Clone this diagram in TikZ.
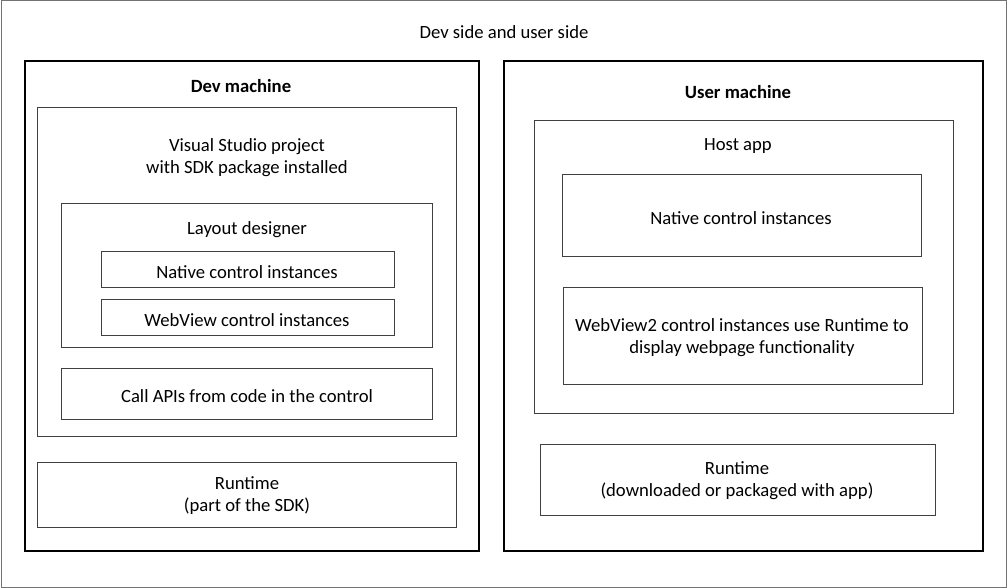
\documentclass[tikz,border=0pt]{standalone}
\usepackage{fontspec}
\setmainfont{Carlito}
\usetikzlibrary{fit}
\begin{document}
\begin{tikzpicture}[x=0.75pt,y=-0.75pt,
  frame/.style={draw=black!75, line width=0.75pt, inner sep=0pt},
  machine/.style={draw=black, line width=1.5pt, inner sep=0pt},
  outerframe/.style={draw=black!55, line width=0.75pt, inner sep=0pt},
  lbl/.style={font=\fontsize{14}{16.5}\selectfont, align=center, inner sep=0pt, text=black, yshift=-1.2pt},
  title/.style={lbl, font=\fontsize{14}{16.5}\selectfont\bfseries}]
\useasboundingbox (0,0) rectangle (1008,588);
% outer
\node[outerframe, fit={(1,1) (1006,587)}] (outer) {};
\node[lbl] (outert) at (504,30) {Dev side and user side};
% dev machine
\node[machine, fit={(25,61) (479,551)}] (dev) {};
\node[title] (devt) at (241,84) {Dev machine};
\node[frame, fit={(37,108) (456,436)}] (vs) {};
\node[lbl] (vst) at (247,156) {Visual Studio project\\with SDK package installed};
\node[frame, fit={(61,204) (432,348)}] (layout) {};
\node[lbl] (layoutt) at (247,228) {Layout designer};
\node[frame, fit={(101,252) (394,288)}] (dnative) {};
\node[lbl] (dnativet) at (247,270) {Native control instances};
\node[frame, fit={(101,300) (394,336)}] (dweb) {};
\node[lbl] (dwebt) at (247,318) {WebView control instances};
\node[frame, fit={(61,369) (432,419)}] (api) {};
\node[lbl] (apit) at (247,394) {Call APIs from code in the control};
\node[frame, fit={(37,462) (456,527)}] (drun) {};
\node[lbl] (druntt) at (247,494) {Runtime\\(part of the SDK)};
% user machine
\node[machine, fit={(504,61) (983,551)}] (user) {};
\node[title] (usert) at (738,90) {User machine};
\node[frame, fit={(534,121) (953,413)}] (host) {};
\node[lbl] (hostt) at (738,144) {Host app};
\node[frame, fit={(562,175) (921,257)}] (unative) {};
\node[lbl] (unativet) at (741,216) {Native control instances};
\node[frame, fit={(563,288) (922,384)}] (uweb) {};
\node[lbl] (uwebt) at (742,336) {WebView2 control instances use Runtime to\\display webpage functionality};
\node[frame, fit={(540,444) (935,515)}] (urun) {};
\node[lbl] (urunt) at (737,479) {Runtime\\(downloaded or packaged with app)};
\end{tikzpicture}
\end{document}
